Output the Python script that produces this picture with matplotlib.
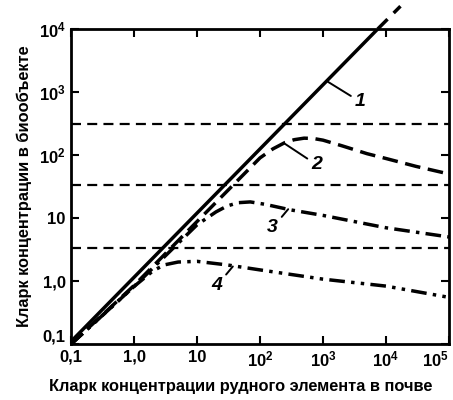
import matplotlib
matplotlib.use("Agg")
from matplotlib import pyplot as plt
from matplotlib.ticker import FixedLocator, FixedFormatter, NullLocator

plt.rcParams["font.family"] = ["Liberation Sans", "DejaVu Sans"]
plt.rcParams["font.weight"] = "bold"
plt.rcParams["mathtext.fontset"] = "custom"
plt.rcParams["mathtext.bf"] = "Liberation Sans:bold"
plt.rcParams["mathtext.rm"] = "Liberation Sans:bold"
plt.rcParams["mathtext.default"] = "bf"

# ---- curve 1: concentration in biota follows soil
line1_x = [0.1, 7.4e3]
line1_y = [0.11, 1e4]
line1_ext_x = [7.4e3, 1.7e4]
line1_ext_y = [1e4, 2.3e4]

# ---- curves 2-4: barrier-limited uptake
curve2_x = [0.1, 1, 10, 100, 160, 250, 350, 500, 700, 1000, 2000, 5000,
            1e4, 3e4, 1e5]
curve2_y = [0.1, 0.85, 8.8, 90, 125, 158, 175, 185, 183, 172, 140, 105,
            88, 66, 50]

curve3_x = [0.1, 1, 10, 20, 30, 45, 70, 120, 300, 1000, 1e4, 1e5]
curve3_y = [0.1, 0.82, 7.8, 12.5, 15.5, 17.5, 18, 16.5, 13.5, 11, 7, 5]

curve4_x = [0.1, 1, 2, 3, 5, 10, 30, 100, 1000, 1e4, 1e5]
curve4_y = [0.1, 0.82, 1.45, 1.8, 2.0, 2.05, 1.8, 1.5, 1.07, 0.83, 0.55]

# ---- barrier levels
barriers = [316, 33, 3.3]

x_ticks = [0.1, 1, 10, 1e2, 1e3, 1e4, 1e5]
x_labels = ["0,1", "1,0", "10", "$10^2$", "$10^3$", "$10^4$", "$10^5$"]
y_ticks = [0.1, 1, 10, 1e2, 1e3, 1e4]
y_labels = ["0,1", "1,0", "10", "$10^2$", "$10^3$", "$10^4$"]

# label text, point on curve, label position
curve_labels = [
    ("1", (1200, 1450), (3200, 700)),
    ("2", (250, 150), (650, 70)),
    ("3", (280, 13.8), (130, 7.0)),
    ("4", (37, 1.7), (17, 0.85)),
]

fig = plt.figure(figsize=(4.53, 4.0), dpi=100)
ax = fig.add_axes([0.157, 0.14, 0.834, 0.7875])
ax.set_xscale("log")
ax.set_yscale("log")
ax.set_xlim(0.1, 1e5)
ax.set_ylim(0.1, 1e4)

for level in barriers:
    ax.axhline(level, color="black", lw=1.6, dashes=(4.5, 2.8))

ax.plot(line1_x, line1_y, color="black", lw=2.5, solid_capstyle="butt")
ax.plot(line1_ext_x, line1_ext_y, color="black", lw=2.5, dashes=(4, 2.5),
        clip_on=False)
ax.plot(curve2_x, curve2_y, color="black", lw=2.5, dashes=(4.5, 2.2))
ax.plot(curve3_x, curve3_y, color="black", lw=2.5,
        dashes=(4.5, 1.8, 1.0, 1.8))
ax.plot(curve4_x, curve4_y, color="black", lw=2.5,
        dashes=(4.5, 1.8, 1.0, 1.8, 1.0, 1.8))

for text, xy, xytext in curve_labels:
    ax.annotate(text, xy=xy, xytext=xytext, fontsize=14, style="italic",
                ha="left", va="center",
                arrowprops=dict(arrowstyle="-", lw=1.4, color="black",
                                shrinkA=1, shrinkB=0))

ax.xaxis.set_major_locator(FixedLocator(x_ticks))
ax.xaxis.set_major_formatter(FixedFormatter(x_labels))
ax.yaxis.set_major_locator(FixedLocator(y_ticks))
ax.yaxis.set_major_formatter(FixedFormatter(y_labels))
ax.xaxis.set_minor_locator(NullLocator())
ax.yaxis.set_minor_locator(NullLocator())
ax.tick_params(which="major", direction="in", length=6, width=1.5,
               top=True, right=True, labelsize=12, pad=4)
for spine in ax.spines.values():
    spine.set_linewidth(2.0)

# keep the edge label inside the figure, lift the corner one
ax.get_xticklabels()[-1].set_ha("right")
ax.get_yticklabels()[0].set_va("bottom")

ax.set_xlabel("Кларк концентрации рудного элемента в почве", fontsize=11.8,
              fontweight="bold")
ax.xaxis.set_label_coords(0.45, -0.11)
ax.set_ylabel("Кларк концентрации в биообъекте", fontsize=11.8,
              fontweight="bold", labelpad=5)

fig.savefig("out.png", dpi=100)
